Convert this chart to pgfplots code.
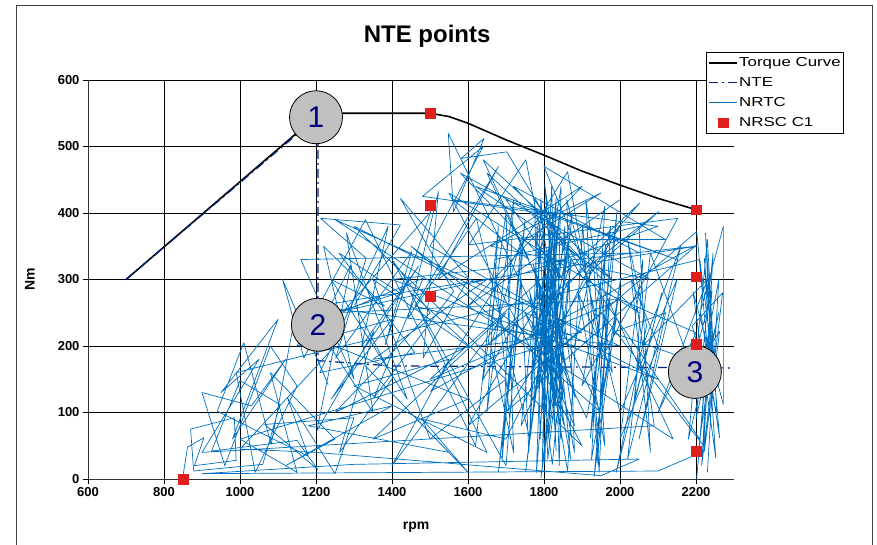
\documentclass[border=0pt]{standalone}
\usepackage{fontspec}
\setmainfont{Liberation Sans}
\newfontfamily\widesans[FakeStretch=1.3]{Liberation Sans}
\usepackage{pgfplots}
\pgfplotsset{compat=1.18}
\definecolor{nrtc}{RGB}{0,112,192}
\definecolor{ntec}{RGB}{0,32,128}
\definecolor{sqred}{RGB}{225,30,30}
\definecolor{circgray}{RGB}{192,192,192}
\definecolor{navytext}{RGB}{0,0,128}
\begin{document}
\begin{tikzpicture}[x=1pt,y=1pt]
\path[use as bounding box] (0,0) rectangle (877,545);
\draw[line width=1pt, black!75] (16,-2) -- (16,539) -- (872,539) -- (872,-2);
\begin{axis}[
  at={(88pt,66pt)}, anchor=south west,
  scale only axis, width=646pt, height=399pt,
  xmin=600, xmax=2300, ymin=0, ymax=600,
  xtick={600,800,...,2200}, ytick={0,100,...,600},
  axis x line*=bottom, axis y line*=left,
  axis line style={-, black!80, line width=0.9pt},
  grid=major, grid style={black, line width=0.8pt},
  tick align=outside, major tick length=5pt,
  tick style={black, line width=0.8pt},
  /pgf/number format/assume math mode=true,
  /pgf/number format/1000 sep={},
  ticklabel style={font=\fontsize{13}{13}\selectfont\bfseries},
  title={NTE points},
  title style={font=\fontsize{24}{24}\selectfont\bfseries, at={(axis description cs:0.525,1.095)}, anchor=center},
  xlabel={rpm},
  xlabel style={font=\fontsize{14}{14}\selectfont\bfseries, at={(axis description cs:0.508,-0.12)}, anchor=center},
  ylabel={Nm},
  ylabel style={font=\fontsize{14}{14}\selectfont\bfseries, at={(axis description cs:-0.09,0.5)}, anchor=center},
  legend style={at={(axis description cs:0.957,1.070)}, anchor=north west,
    draw=black, line width=0.8pt, fill=white,
    font=\widesans\fontsize{13}{14}\selectfont, row sep=7.5pt,
    inner xsep=2pt, inner ysep=4pt, cells={anchor=west},
    nodes={inner xsep=1pt, inner ysep=1pt}},
  legend image code/.code={\draw[mark repeat=2,mark phase=2,#1] plot coordinates {(0pt,0pt) (14pt,0pt) (28pt,0pt)};},
  clip=false,
]
\addplot[black, line width=1.6pt] coordinates {
(700,300) (1210,550) (1500,550) (1550,545) (1600,535) (1700,510) (1800,487) (1900,463) (2000,442) (2100,422) (2200,405)};
\addlegendentry{Torque Curve}
\addplot[ntec, line width=1.2pt, dash pattern=on 9pt off 4pt on 2pt off 4pt] coordinates {
(700,300) (1205,545) (1205,178) (1400,170) (2300,167)};
\addlegendentry{NTE}
\addplot[nrtc, line width=0.7pt, line join=round] coordinates {
(850,5) (862,48) (905,62) (880,20) (990,28) (985,92) (870,75) (878,12) (1060,22) (1105,112) (1000,148) (925,42) (1150,58) (1205,14) (1065,82) (1300,92) (1250,8) (1125,122) (1180,34) (940,102) (1010,205) (1082,52) (1148,255) (1232,142) (1112,300) (1168,182) (1292,322) (1202,72) (1352,222) (1262,40) (1402,152)
(1302,262) (1422,382) (1212,392) (1332,332) (1252,182) (1452,342) (1382,202) (1502,402) (1272,252) (1482,302) (1352,122) (1562,282) (1422,422) (1602,302) (1482,182) (1522,432) (1442,242) (1622,392)
(1762,62) (1782,382) (1802,22) (1822,362) (1772,102) (1792,422) (1832,42) (1812,302) (1752,12) (1842,402) (1802,152) (1862,352) (1792,2) (1852,252) (1812,62) (1832,422) (1782,142) (1872,332) (1822,22) (1762,282) (1852,82) (1802,442) (1882,122) (1772,322) (1862,12)
(1902,382) (1942,22) (1962,352) (1922,62) (1992,402) (1952,122) (2002,302) (1932,4) (1972,272) (1912,92)
(1548,520) (1562,402) (1642,512) (1582,482) (1702,492) (1902,302) (2102,402) (1652,202) (2052,415) (1802,252) (2002,382) (1702,102) (2202,352) (1502,132) (1862,462) (1952,182) (2152,392) (1602,352) (1752,480) (1850,200)
(2202,372) (2242,122) (2222,332) (2262,62) (2212,252) (2272,380) (2272,112) (2192,282) (2252,32) (2232,202) (2202,2) (2242,282) (2182,152) (2262,222) (2222,42)
(2100,12) (900,8) (1300,22) (2050,30) (1950,5) (1200,40) (1000,45)
(1250,200) (1600,120) (1350,60) (1700,250) (1400,20) (1550,180) (1300,140) (1650,40) (1450,280) (1700,150) (1500,60) (1350,300) (1600,200) (1250,100) (1500,250) (1400,330) (1700,20)
(1740,300) (1760,40) (1790,350) (1815,90) (1835,380) (1780,10) (1800,330) (1845,60) (1825,400) (1770,170) (1865,300) (1810,30) (1795,260) (1850,120) (1805,410) (1740,80) (1830,200) (1880,40) (1860,420)
(2000,100) (2150,300) (2050,60) (2120,250) (1980,220) (2180,180) (2080,340) (2020,30) (2160,350) (2060,200) (2230,300) (2100,100) (2200,220) (1960,280) (2140,60)
(1250,390) (2000,200) (1200,260) (2200,350) (1400,300) (2100,150) (1300,380) (1900,50) (1550,430) (2050,250) (1650,460) (1950,100) (1450,350) (1800,200)
(1000,60) (1150,10) (1080,160) (1250,60) (1120,20) (1400,110) (1180,80) (1550,40) (1330,170) (1600,10) (1480,90) (1700,60)
(1930,330) (1960,50) (1890,280) (1980,160) (1910,420) (1945,10) (1975,380) (1900,140) (1990,240) (1925,30) (1960,410) (1880,200)
(1460,260) (1680,470) (1520,300) (1900,440) (1600,260) (2000,420) (1700,300) (2100,380) (1560,420) (1760,330) (1640,480) (1980,300) (1620,440) (2150,330) (1700,420) (1850,300) (1580,460) (2080,300) (1660,350) (1950,430) (1750,360) (2120,360) (1800,470) (1900,330) (1720,440) (2050,340)
(1160,330) (1300,150) (1220,350) (1380,260) (1240,300) (1440,120) (1280,370) (1350,100) (1190,240) (1420,280) (1260,340) (1460,190) (1210,160) (1390,380) (1320,200) (1470,320) (1240,120) (1400,240) (1150,200) (1330,390)
(1620,50) (1680,380) (1650,100) (1720,420) (1690,30) (1740,360) (1660,200) (1720,40) (1700,400) (1640,150) (1730,240) (1680,10) (1750,390) (1710,90) (1670,330)
(2050,380) (2080,40) (2030,300) (2100,200) (2000,60) (2060,330) (2040,120) (2110,280) (1990,10) (2070,230) (2020,360) (2090,80)
(900,40) (1050,180) (950,130) (1100,240) (980,60) (1120,180) (1030,110) (900,130) (960,20) (1080,200) (1150,140) (1040,10) (990,160) (1200,190)
(2210,330) (2250,150) (2230,360) (2180,60) (2260,250) (2200,90) (2245,340) (2215,20) (2270,280) (2190,230) (2255,100) (2225,370) (2240,180) (2210,60)
(1775,420) (1790,60) (1820,440) (1840,20) (1855,380) (1800,90) (1815,370) (1870,30) (1785,300) (1830,110) (1845,440) (1765,150) (1875,400) (1795,20) (1810,330) (1880,80) (1750,250) (1860,160) (1790,400)
(1480,425) (1640,500) (1500,350) (1900,220) (1350,180) (1650,300) (1250,250) (2000,270) (1500,150) (1850,330) (1600,80) (1950,250)
(2220,50) (2240,240) (2200,120) (2260,300) (2230,10)};
\addlegendentry{NRTC}
\addplot[only marks, mark=square*, mark size=4.8pt, sqred, mark options={draw=sqred, fill=sqred}] coordinates {
(850,0) (1500,550) (1500,412) (1500,275) (2200,405) (2200,304) (2200,203) (2200,42)};
\addlegendentry{NRSC C1}
\node[circle, fill=circgray, draw=black, line width=0.8pt, minimum size=53pt, inner sep=0pt, text=navytext, font=\fontsize{30}{30}\selectfont] at (axis cs:1200,544) {1};
\node[circle, fill=circgray, draw=black, line width=0.8pt, minimum size=53pt, inner sep=0pt, text=navytext, font=\fontsize{30}{30}\selectfont] at (axis cs:1205,232) {2};
\node[circle, fill=circgray, draw=black, line width=0.8pt, minimum size=53pt, inner sep=0pt, text=navytext, font=\fontsize{30}{30}\selectfont] at (axis cs:2197,161) {3};
\end{axis}
\end{tikzpicture}
\end{document}
